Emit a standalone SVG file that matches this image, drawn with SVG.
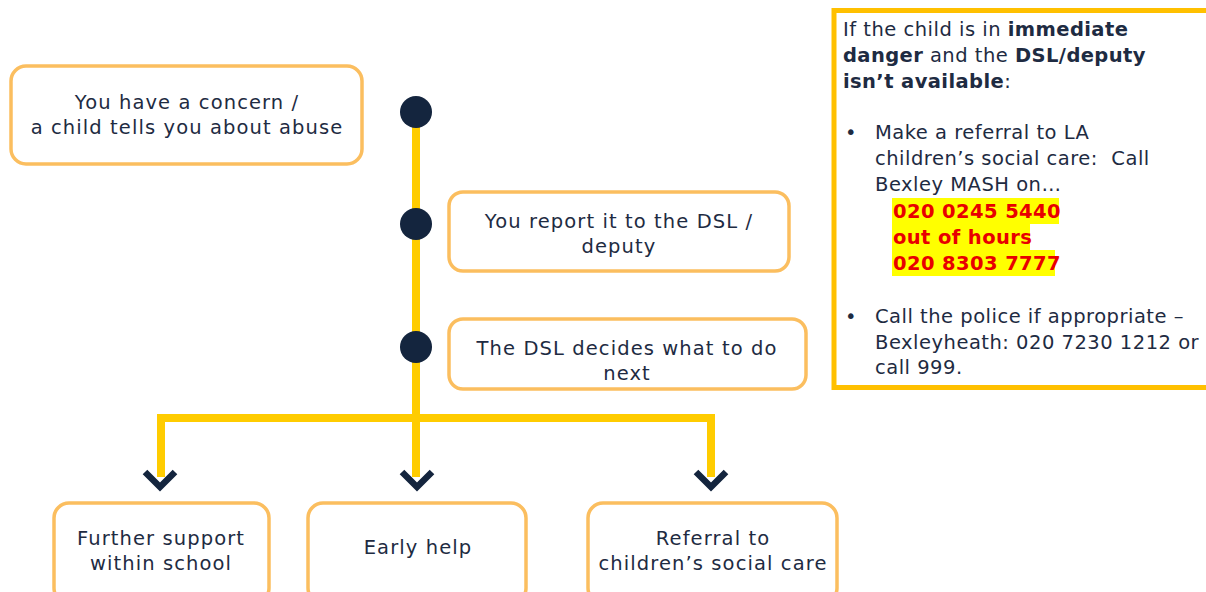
<svg xmlns="http://www.w3.org/2000/svg" width="1206" height="592" viewBox="0 0 1206 592">
<style>
.box{fill:#fff;stroke:#FBBE5F;stroke-width:3.5}
.t{font-family:"DejaVu Sans","Liberation Sans",sans-serif;font-size:19.5px;letter-spacing:1.1px;fill:#1E2B42;text-anchor:middle}
.p{font-family:"DejaVu Sans","Liberation Sans",sans-serif;font-size:19.5px;letter-spacing:0.5px;fill:#1E2B42}
.b{font-weight:bold;letter-spacing:0.4px}
.r{font-family:"DejaVu Sans","Liberation Sans",sans-serif;font-size:19.5px;letter-spacing:0.4px;fill:#E80000;font-weight:bold}
.line{fill:none;stroke:#FFCC00;stroke-width:8}
.chev{fill:none;stroke:#14253E;stroke-width:6.5}
.dot{fill:#14253E}
</style>
<rect width="1206" height="592" fill="#fff"/>
<g id="connectors">
<path class="line" d="M416,112 V419"/>
<path class="line" d="M161,477 V418 H711 V477"/>
<path class="line" d="M416,419 V477"/>
<path class="chev" d="M145,472 L160,487 L175,472"/>
<path class="chev" d="M402,472 L417,487 L432,472"/>
<path class="chev" d="M696,472 L711,487 L726,472"/>
</g>
<g id="dot1"><circle class="dot" cx="416" cy="112" r="16"/></g>
<g id="dot2"><circle class="dot" cx="416" cy="224" r="16"/></g>
<g id="dot3"><circle class="dot" cx="416" cy="347" r="16"/></g>
<g id="node-concern">
<rect class="box" x="11" y="66" width="351" height="98" rx="15"/>
<text class="t" x="187" y="109">You have a concern /</text>
<text class="t" x="187" y="134">a child tells you about abuse</text>
</g>
<g id="node-report">
<rect class="box" x="449" y="192" width="340" height="79" rx="14"/>
<text class="t" x="619" y="228">You report it to the DSL /</text>
<text class="t" x="619" y="253">deputy</text>
</g>
<g id="node-decides">
<rect class="box" x="449" y="319" width="357" height="70" rx="14"/>
<text class="t" x="627" y="355">The DSL decides what to do</text>
<text class="t" x="627" y="380">next</text>
</g>
<g id="node-further">
<rect class="box" x="54" y="503" width="215" height="100" rx="15"/>
<text class="t" x="161" y="545">Further support</text>
<text class="t" x="161" y="570">within school</text>
</g>
<g id="node-early">
<rect class="box" x="308" y="503" width="218" height="100" rx="15"/>
<text class="t" x="418" y="554">Early help</text>
</g>
<g id="node-referral">
<rect class="box" x="588" y="503" width="249" height="100" rx="15"/>
<text class="t" x="713" y="545">Referral to</text>
<text class="t" x="713" y="570">children’s social care</text>
</g>
<g id="panel">
<rect x="834" y="10.5" width="400" height="377" fill="#fff" stroke="#FFC000" stroke-width="5"/>
<text class="p" x="843" y="36">If the child is in <tspan class="b">immediate</tspan></text>
<text class="p" x="843" y="62"><tspan class="b">danger</tspan> and the <tspan class="b">DSL/deputy</tspan></text>
<text class="p" x="843" y="88"><tspan class="b">isn’t available</tspan>:</text>
<text class="p" x="845" y="139">•</text>
<text class="p" x="875" y="139">Make a referral to LA</text>
<text class="p" x="875" y="165" xml:space="preserve">children’s social care:  Call</text>
<text class="p" x="875" y="191">Bexley MASH on…</text>
<rect x="892" y="198" width="167" height="26" fill="#FFFF00"/>
<rect x="892" y="224" width="138" height="26" fill="#FFFF00"/>
<rect x="892" y="250" width="163" height="26" fill="#FFFF00"/>
<text class="r" x="893" y="218">020 0245 5440</text>
<text class="r" x="893" y="244">out of hours</text>
<text class="r" x="893" y="270">020 8303 7777</text>
<text class="p" x="845" y="323">•</text>
<text class="p" x="875" y="323">Call the police if appropriate –</text>
<text class="p" x="875" y="349">Bexleyheath: 020 7230 1212 or</text>
<text class="p" x="875" y="374">call 999.</text>
</g>
</svg>
